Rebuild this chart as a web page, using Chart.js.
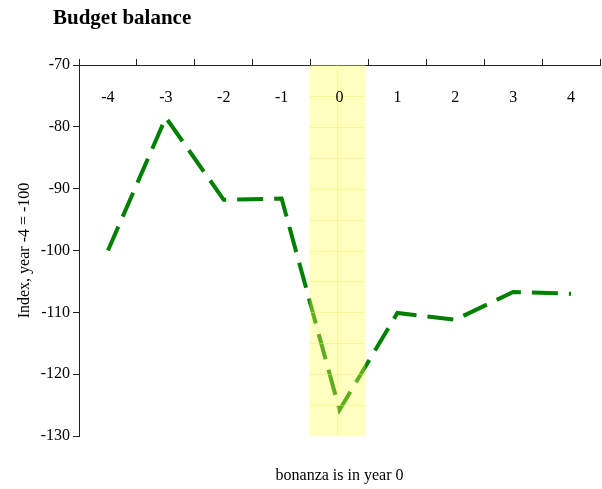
<!DOCTYPE html>
<html>
<head>
<meta charset="utf-8">
<script src="https://cdn.jsdelivr.net/npm/chart.js@4.4.0/dist/chart.umd.min.js"></script>
<style>
  html, body { margin: 0; padding: 0; background: #fff; }
  #wrap { width: 602px; height: 489px; }
</style>
</head>
<body>
<div id="wrap"><canvas id="budget"></canvas></div>
<script>
var years = ["-4", "-3", "-2", "-1", "0", "1", "2", "3", "4"];
var balance = [-100, -78.5, -91.8, -91.6, -125.8, -110.1, -111.2, -106.7, -107.0];
var bonanzaYear = "0";

var chartTitle = "Budget balance";
var yTitle = "Index, year -4 = -100";
var xTitle = "bonanza is in year 0";

var serif = "'Liberation Serif', 'DejaVu Serif', serif";

// yellow band over the bonanza year, drawn on top of the line
var bandPlugin = {
  id: "band",
  afterDatasetsDraw: function (chart) {
    var ctx = chart.ctx;
    var x = chart.scales.x, y = chart.scales.y;
    var i = years.indexOf(bonanzaYear);
    var half = (x.getPixelForValue(1) - x.getPixelForValue(0)) / 2;
    var cx = x.getPixelForValue(i);
    var left = cx - half - 1, right = cx + half - 3;
    var top = y.getPixelForValue(-70), bottom = y.getPixelForValue(-130);
    ctx.save();
    ctx.fillStyle = "rgba(255,255,80,0.36)";
    ctx.fillRect(left, top, right - left, bottom - top);
    ctx.strokeStyle = "rgba(240,240,110,0.45)";
    ctx.lineWidth = 1;
    ctx.beginPath();
    for (var v = -75; v > -130; v -= 5) {
      var py = Math.round(y.getPixelForValue(v)) + 0.5;
      ctx.moveTo(left, py);
      ctx.lineTo(right, py);
    }
    ctx.moveTo(Math.round(cx) - 2.5, top);
    ctx.lineTo(Math.round(cx) - 2.5, bottom);
    ctx.stroke();
    ctx.restore();
  }
};

// chart title, and the year labels which sit just inside the top axis
var textPlugin = {
  id: "texts",
  afterDraw: function (chart) {
    var ctx = chart.ctx;
    var x = chart.scales.x;
    ctx.save();
    ctx.font = "bold 21px " + serif;
    ctx.fillStyle = "#000";
    ctx.textBaseline = "middle";
    ctx.fillText(chartTitle, 53, 19);
    ctx.font = "16px " + serif;
    ctx.textAlign = "center";
    years.forEach(function (lab, i) {
      ctx.fillText(lab, x.getPixelForValue(i), x.bottom + 33);
    });
    ctx.restore();
  }
};

var ctx = document.getElementById("budget");
var budget = new Chart(ctx, {
  type: "line",
  data: {
    labels: years,
    datasets: [{
      data: balance,
      borderColor: "#008000",
      borderWidth: 4,
      borderDash: [26, 11],
      borderCapStyle: "butt",
      pointRadius: 0,
      tension: 0,
      fill: false,
      xAxisID: "x"
    }]
  },
  options: {
    responsive: true,
    maintainAspectRatio: false,
    animation: false,
    layout: { padding: { left: 0, right: 2, top: 0, bottom: 0 } },
    plugins: {
      legend: { display: false },
      tooltip: { enabled: false }
    },
    scales: {
      x: {
        type: "category",
        position: "top",
        offset: true,
        grid: {
          offset: true,
          drawOnChartArea: false,
          drawTicks: true,
          tickLength: 6,
          color: "#222"
        },
        border: { display: true, color: "#222", width: 1 },
        ticks: { display: false },
        afterFit: function (scale) { scale.height = 65; }
      },
      x2: {
        type: "category",
        position: "bottom",
        labels: years,
        grid: { display: false },
        border: { display: false },
        ticks: { display: false },
        title: {
          display: true,
          text: xTitle,
          color: "#000",
          font: { family: serif, size: 16 },
          padding: { top: 0, bottom: 4 }
        },
        afterFit: function (scale) { scale.height = 53; }
      },
      y: {
        min: -130,
        max: -70,
        ticks: {
          stepSize: 10,
          color: "#000",
          font: { family: serif, size: 16 },
          padding: 3
        },
        grid: {
          drawOnChartArea: false,
          drawTicks: true,
          tickLength: 6,
          color: "#222"
        },
        border: { display: true, color: "#222", width: 1 },
        title: {
          display: true,
          text: yTitle,
          color: "#000",
          font: { family: serif, size: 16 },
          padding: { top: 15, bottom: 0 }
        },
        afterFit: function (scale) { scale.width = 79; }
      }
    }
  },
  plugins: [bandPlugin, textPlugin]
});
</script>
</body>
</html>
